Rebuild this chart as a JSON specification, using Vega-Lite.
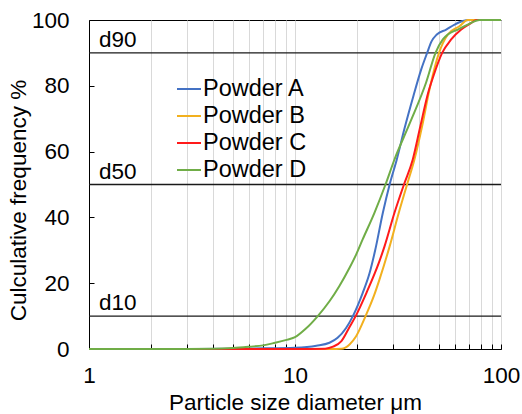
{
  "$schema": "https://vega.github.io/schema/vega-lite/v6.json",
  "width": 412,
  "height": 329,
  "autosize": {"type": "none"},
  "padding": {"left": 89, "top": 20, "right": 21, "bottom": 65},
  "background": "white",
  "config": {
    "font": "Liberation Sans",
    "view": {"stroke": "black", "strokeWidth": 1},
    "axis": {
      "labelFont": "Liberation Sans",
      "titleFont": "Liberation Sans",
      "labelFontSize": 22.5,
      "titleFontSize": 22.5,
      "titleFontWeight": "normal",
      "labelColor": "black",
      "titleColor": "black",
      "domainColor": "black",
      "tickColor": "black"
    }
  },
  "datasets": {
    "curves": [
      {"size": 1, "cum": 0, "powder": "Powder A"},
      {"size": 3, "cum": 0, "powder": "Powder A"},
      {"size": 5, "cum": 0.1, "powder": "Powder A"},
      {"size": 7, "cum": 0.2, "powder": "Powder A"},
      {"size": 10, "cum": 0.4, "powder": "Powder A"},
      {"size": 12.7, "cum": 1.0, "powder": "Powder A"},
      {"size": 14.7, "cum": 1.9, "powder": "Powder A"},
      {"size": 16.1, "cum": 3.4, "powder": "Powder A"},
      {"size": 17.7, "cum": 6.4, "powder": "Powder A"},
      {"size": 19.1, "cum": 10, "powder": "Powder A"},
      {"size": 21.3, "cum": 17, "powder": "Powder A"},
      {"size": 23, "cum": 23, "powder": "Powder A"},
      {"size": 24.5, "cum": 30, "powder": "Powder A"},
      {"size": 26.7, "cum": 41.4, "powder": "Powder A"},
      {"size": 28.8, "cum": 50, "powder": "Powder A"},
      {"size": 31.2, "cum": 57.6, "powder": "Powder A"},
      {"size": 34, "cum": 67, "powder": "Powder A"},
      {"size": 37.6, "cum": 77, "powder": "Powder A"},
      {"size": 41, "cum": 85, "powder": "Powder A"},
      {"size": 43.8, "cum": 90, "powder": "Powder A"},
      {"size": 46, "cum": 93.5, "powder": "Powder A"},
      {"size": 48.8, "cum": 95.6, "powder": "Powder A"},
      {"size": 54.2, "cum": 97.1, "powder": "Powder A"},
      {"size": 59.5, "cum": 98.6, "powder": "Powder A"},
      {"size": 65.3, "cum": 99.7, "powder": "Powder A"},
      {"size": 70, "cum": 100, "powder": "Powder A"},
      {"size": 100, "cum": 100, "powder": "Powder A"},

      {"size": 1, "cum": 0, "powder": "Powder B"},
      {"size": 10, "cum": 0, "powder": "Powder B"},
      {"size": 15, "cum": 0, "powder": "Powder B"},
      {"size": 16.8, "cum": 0.1, "powder": "Powder B"},
      {"size": 18.4, "cum": 1.4, "powder": "Powder B"},
      {"size": 19.8, "cum": 3.9, "powder": "Powder B"},
      {"size": 22, "cum": 10, "powder": "Powder B"},
      {"size": 24.3, "cum": 16.6, "powder": "Powder B"},
      {"size": 25.7, "cum": 21.1, "powder": "Powder B"},
      {"size": 28.8, "cum": 31.2, "powder": "Powder B"},
      {"size": 31.9, "cum": 41.4, "powder": "Powder B"},
      {"size": 35, "cum": 50, "powder": "Powder B"},
      {"size": 38, "cum": 57.6, "powder": "Powder B"},
      {"size": 41.4, "cum": 67.7, "powder": "Powder B"},
      {"size": 45, "cum": 79, "powder": "Powder B"},
      {"size": 50, "cum": 90, "powder": "Powder B"},
      {"size": 55.2, "cum": 95.6, "powder": "Powder B"},
      {"size": 62.8, "cum": 98.1, "powder": "Powder B"},
      {"size": 69, "cum": 100, "powder": "Powder B"},
      {"size": 100, "cum": 100, "powder": "Powder B"},

      {"size": 1, "cum": 0, "powder": "Powder C"},
      {"size": 10, "cum": 0, "powder": "Powder C"},
      {"size": 14, "cum": 0.1, "powder": "Powder C"},
      {"size": 15.3, "cum": 0.7, "powder": "Powder C"},
      {"size": 16.8, "cum": 2.4, "powder": "Powder C"},
      {"size": 18.4, "cum": 6.7, "powder": "Powder C"},
      {"size": 19.7, "cum": 10, "powder": "Powder C"},
      {"size": 22.2, "cum": 17, "powder": "Powder C"},
      {"size": 25.7, "cum": 26.7, "powder": "Powder C"},
      {"size": 27.2, "cum": 31.2, "powder": "Powder C"},
      {"size": 30.4, "cum": 41.4, "powder": "Powder C"},
      {"size": 33.8, "cum": 50, "powder": "Powder C"},
      {"size": 37.3, "cum": 57.6, "powder": "Powder C"},
      {"size": 40.6, "cum": 67.7, "powder": "Powder C"},
      {"size": 44.3, "cum": 77.9, "powder": "Powder C"},
      {"size": 47, "cum": 83, "powder": "Powder C"},
      {"size": 51.8, "cum": 90, "powder": "Powder C"},
      {"size": 57.3, "cum": 94.1, "powder": "Powder C"},
      {"size": 64.1, "cum": 97.1, "powder": "Powder C"},
      {"size": 71.7, "cum": 99.1, "powder": "Powder C"},
      {"size": 76, "cum": 100, "powder": "Powder C"},
      {"size": 100, "cum": 100, "powder": "Powder C"},

      {"size": 1, "cum": 0, "powder": "Powder D"},
      {"size": 3, "cum": 0, "powder": "Powder D"},
      {"size": 4, "cum": 0.05, "powder": "Powder D"},
      {"size": 5, "cum": 0.3, "powder": "Powder D"},
      {"size": 6, "cum": 0.7, "powder": "Powder D"},
      {"size": 7, "cum": 1.1, "powder": "Powder D"},
      {"size": 8, "cum": 1.9, "powder": "Powder D"},
      {"size": 9, "cum": 2.7, "powder": "Powder D"},
      {"size": 10, "cum": 3.6, "powder": "Powder D"},
      {"size": 11.3, "cum": 6.2, "powder": "Powder D"},
      {"size": 12.9, "cum": 10, "powder": "Powder D"},
      {"size": 14.7, "cum": 14.5, "powder": "Powder D"},
      {"size": 16.4, "cum": 19.1, "powder": "Powder D"},
      {"size": 18.4, "cum": 24.7, "powder": "Powder D"},
      {"size": 19.8, "cum": 28.7, "powder": "Powder D"},
      {"size": 21.3, "cum": 33.3, "powder": "Powder D"},
      {"size": 24.3, "cum": 41.4, "powder": "Powder D"},
      {"size": 27.5, "cum": 50, "powder": "Powder D"},
      {"size": 30.4, "cum": 57.6, "powder": "Powder D"},
      {"size": 36, "cum": 68.5, "powder": "Powder D"},
      {"size": 43.3, "cum": 81, "powder": "Powder D"},
      {"size": 48.1, "cum": 90, "powder": "Powder D"},
      {"size": 52.2, "cum": 94.1, "powder": "Powder D"},
      {"size": 55.2, "cum": 95.6, "powder": "Powder D"},
      {"size": 61.7, "cum": 97.1, "powder": "Powder D"},
      {"size": 69, "cum": 98.6, "powder": "Powder D"},
      {"size": 78.7, "cum": 100, "powder": "Powder D"},
      {"size": 100, "cum": 100, "powder": "Powder D"}
    ],
    "levels": [
      {"level": 10, "label": "d10"},
      {"level": 50, "label": "d50"},
      {"level": 90, "label": "d90"}
    ]
  },
  "layer": [
    {
      "data": {"name": "levels"},
      "mark": {"type": "rule", "color": "#1a1a1a", "strokeWidth": 1.3},
      "encoding": {
        "y": {"field": "level", "type": "quantitative", "scale": {"domain": [0, 100]}}
      }
    },
    {
      "data": {"name": "levels"},
      "mark": {"type": "text", "align": "left", "baseline": "alphabetic", "dx": 10, "dy": -6, "fontSize": 22.5, "font": "Liberation Sans", "color": "black"},
      "encoding": {
        "x": {"datum": 1, "type": "quantitative"},
        "y": {"field": "level", "type": "quantitative"},
        "text": {"field": "label"}
      }
    },
    {
      "data": {"name": "curves"},
      "mark": {"type": "line", "strokeWidth": 2, "interpolate": "monotone"},
      "encoding": {
        "x": {
          "field": "size", "type": "quantitative",
          "scale": {"type": "log", "domain": [1, 100], "nice": false},
          "axis": {
            "title": "Particle size diameter μm",
            "values": [1, 2, 3, 4, 5, 6, 7, 8, 9, 10, 20, 30, 40, 50, 60, 70, 80, 90, 100],
            "labelExpr": "datum.value == 1 || datum.value == 10 || datum.value == 100 ? datum.value : ''",
            "grid": true,
            "gridColor": "#d9d9d9",
            "gridWidth": 1,
            "tickSize": -5,
            "labelPadding": 20,
            "titlePadding": 5,
            "labelFlush": false,
            "labelOverlap": false
          }
        },
        "y": {
          "field": "cum", "type": "quantitative",
          "scale": {"domain": [0, 100], "nice": false},
          "axis": {
            "title": "Culculative frequency %",
            "values": [0, 20, 40, 60, 80, 100],
            "grid": false,
            "tickSize": -5,
            "labelPadding": 25,
            "titlePadding": 1,
            "titleY": 180
          }
        },
        "color": {
          "field": "powder", "type": "nominal",
          "scale": {
            "domain": ["Powder A", "Powder B", "Powder C", "Powder D"],
            "range": ["#4472C4", "#F2B01E", "#FF1A1A", "#70AD47"]
          },
          "legend": {
            "title": null,
            "orient": "none",
            "legendX": 87,
            "legendY": 56,
            "symbolType": "stroke",
            "symbolSize": 576,
            "symbolStrokeWidth": 2,
            "labelFontSize": 23.5,
            "labelFont": "Liberation Sans",
            "labelColor": "black",
            "labelOffset": 1,
            "rowPadding": 2
          }
        }
      }
    }
  ]
}
